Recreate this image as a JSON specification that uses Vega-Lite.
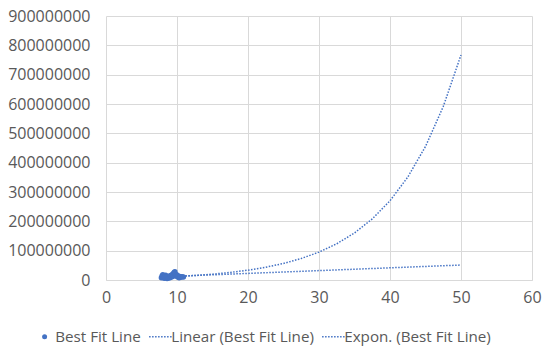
{
  "$schema": "https://vega.github.io/schema/vega-lite/v6.json",
  "width": 426,
  "height": 264,
  "autosize": "none",
  "padding": {"left": 106, "top": 16, "right": 20, "bottom": 74},
  "background": "white",
  "config": {
    "view": {"stroke": null},
    "font": "Open Sans",
    "axis": {"labelFont": "Open Sans", "labelColor": "#595959", "labelFontSize": 16, "gridColor": "#D9D9D9", "gridWidth": 1, "ticks": false, "title": null, "labelFlush": false}
  },
  "data": {"values": [
    {"series": "Best Fit Line", "x": 7.8, "y": 8000000},
    {"series": "Best Fit Line", "x": 7.9, "y": 14000000},
    {"series": "Best Fit Line", "x": 8.0, "y": 18000000},
    {"series": "Best Fit Line", "x": 8.1, "y": 12000000},
    {"series": "Best Fit Line", "x": 8.2, "y": 6000000},
    {"series": "Best Fit Line", "x": 8.3, "y": 10000000},
    {"series": "Best Fit Line", "x": 8.4, "y": 16000000},
    {"series": "Best Fit Line", "x": 8.5, "y": 9000000},
    {"series": "Best Fit Line", "x": 8.6, "y": 5000000},
    {"series": "Best Fit Line", "x": 8.7, "y": 11000000},
    {"series": "Best Fit Line", "x": 8.8, "y": 7000000},
    {"series": "Best Fit Line", "x": 8.9, "y": 13000000},
    {"series": "Best Fit Line", "x": 9.0, "y": 8000000},
    {"series": "Best Fit Line", "x": 9.1, "y": 15000000},
    {"series": "Best Fit Line", "x": 9.2, "y": 10000000},
    {"series": "Best Fit Line", "x": 9.3, "y": 18000000},
    {"series": "Best Fit Line", "x": 9.4, "y": 12000000},
    {"series": "Best Fit Line", "x": 9.5, "y": 22000000},
    {"series": "Best Fit Line", "x": 9.6, "y": 26000000},
    {"series": "Best Fit Line", "x": 9.7, "y": 28000000},
    {"series": "Best Fit Line", "x": 9.8, "y": 20000000},
    {"series": "Best Fit Line", "x": 9.9, "y": 14000000},
    {"series": "Best Fit Line", "x": 10.0, "y": 17000000},
    {"series": "Best Fit Line", "x": 10.1, "y": 10000000},
    {"series": "Best Fit Line", "x": 10.2, "y": 13000000},
    {"series": "Best Fit Line", "x": 10.3, "y": 8000000},
    {"series": "Best Fit Line", "x": 10.4, "y": 12000000},
    {"series": "Best Fit Line", "x": 10.5, "y": 9000000},
    {"series": "Best Fit Line", "x": 10.7, "y": 11000000},
    {"series": "Best Fit Line", "x": 10.9, "y": 10000000},
    {"series": "Linear (Best Fit Line)", "x": 7.8, "y": 10900000},
    {"series": "Linear (Best Fit Line)", "x": 50, "y": 51000000},
    {"series": "Expon. (Best Fit Line)", "x": 7.8, "y": 9400000},
    {"series": "Expon. (Best Fit Line)", "x": 10, "y": 11800000},
    {"series": "Expon. (Best Fit Line)", "x": 12.5, "y": 15300000},
    {"series": "Expon. (Best Fit Line)", "x": 15, "y": 19900000},
    {"series": "Expon. (Best Fit Line)", "x": 17.5, "y": 25800000},
    {"series": "Expon. (Best Fit Line)", "x": 20, "y": 33500000},
    {"series": "Expon. (Best Fit Line)", "x": 22.5, "y": 43500000},
    {"series": "Expon. (Best Fit Line)", "x": 25, "y": 56400000},
    {"series": "Expon. (Best Fit Line)", "x": 27.5, "y": 73300000},
    {"series": "Expon. (Best Fit Line)", "x": 30, "y": 95100000},
    {"series": "Expon. (Best Fit Line)", "x": 32.5, "y": 123500000},
    {"series": "Expon. (Best Fit Line)", "x": 35, "y": 160400000},
    {"series": "Expon. (Best Fit Line)", "x": 37.5, "y": 208200000},
    {"series": "Expon. (Best Fit Line)", "x": 40, "y": 270200000},
    {"series": "Expon. (Best Fit Line)", "x": 42.5, "y": 350700000},
    {"series": "Expon. (Best Fit Line)", "x": 45, "y": 455300000},
    {"series": "Expon. (Best Fit Line)", "x": 47.5, "y": 591200000},
    {"series": "Expon. (Best Fit Line)", "x": 50, "y": 767000000}
  ]},
  "encoding": {
    "x": {"field": "x", "type": "quantitative",
      "scale": {"domain": [0, 60], "nice": false},
      "axis": {"values": [0, 10, 20, 30, 40, 50, 60], "domain": true, "domainColor": "#D9D9D9", "domainWidth": 1, "labelPadding": 9, "grid": true}},
    "y": {"field": "y", "type": "quantitative",
      "scale": {"domain": [0, 900000000], "nice": false},
      "axis": {"values": [0, 100000000, 200000000, 300000000, 400000000, 500000000, 600000000, 700000000, 800000000, 900000000], "format": "d", "domain": false, "labelPadding": 16, "grid": true}},
    "color": {"field": "series", "type": "nominal",
      "scale": {"domain": ["Best Fit Line", "Linear (Best Fit Line)", "Expon. (Best Fit Line)"], "range": ["#4472C4", "#4472C4", "#4472C4"]},
      "legend": {
        "title": null, "orient": "none", "direction": "horizontal",
        "legendX": -69, "legendY": 313,
        "labelFont": "Open Sans", "labelFontSize": 15.2, "labelColor": "#595959",
        "symbolSize": 529, "labelOffset": 3, "columnPadding": 5,
        "encode": {"symbols": {"update": {
          "shape": {"signal": "datum.value === 'Best Fit Line' ? 'circle' : 'stroke'"},
          "size": {"signal": "datum.value === 'Best Fit Line' ? 25 : 529"},
          "fill": {"signal": "datum.value === 'Best Fit Line' ? '#4472C4' : 'transparent'"},
          "stroke": {"value": "#4472C4"},
          "strokeWidth": {"signal": "datum.value === 'Best Fit Line' ? 0 : 1.5"},
          "strokeDash": {"value": [1.5, 1.5]},
          "opacity": {"value": 1}
        }}}
      }}
  },
  "layer": [
    {
      "transform": [{"filter": "datum.series !== 'Best Fit Line'"}],
      "mark": {"type": "line", "strokeWidth": 1.5, "strokeDash": [1.5, 1.5], "clip": true},
      "encoding": {"detail": {"field": "series"}}
    },
    {
      "transform": [{"filter": "datum.series === 'Best Fit Line'"}],
      "mark": {"type": "point", "filled": true, "shape": "circle", "size": 30, "opacity": 1}
    }
  ]
}
